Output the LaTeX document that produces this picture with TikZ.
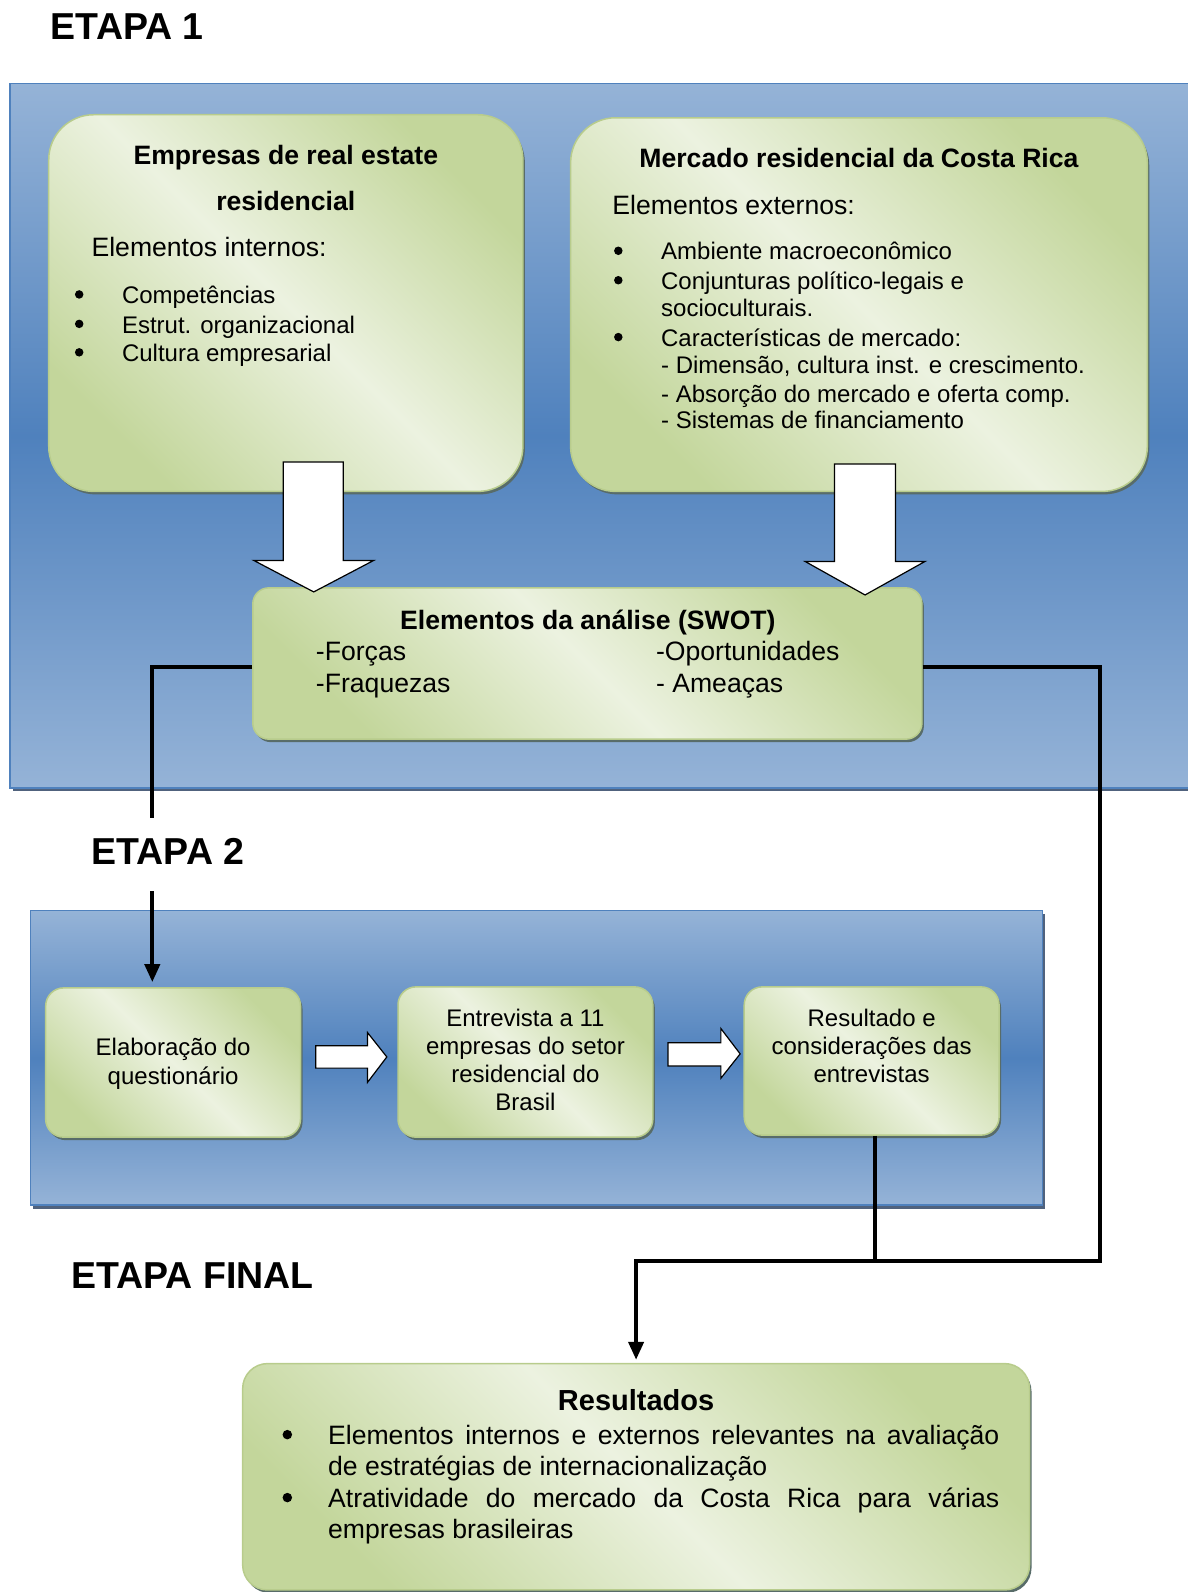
\documentclass[tikz,border=0pt]{standalone}
\usepackage{fontspec}
\setmainfont{Liberation Sans}
\usetikzlibrary{arrows.meta,shadows,calc}
\definecolor{blueL}{RGB}{149,179,215}
\definecolor{blueD}{RGB}{79,129,189}
\definecolor{blueB}{RGB}{79,129,189}
\definecolor{greenL}{RGB}{236,242,224}
\definecolor{greenD}{RGB}{195,214,155}
\definecolor{greenB}{RGB}{184,204,140}
\definecolor{gshadow}{RGB}{88,108,105}
\definecolor{bshadow}{RGB}{80,98,125}
\def\k{1.01538}
\newcommand{\fsA}{\fontsize{26.6pt}{31pt}\selectfont}
\newcommand{\fsB}{\fontsize{24pt}{28pt}\selectfont}
\newcommand{\fsE}{\fontsize{37.5pt}{41pt}\selectfont}
\newcommand{\fsR}{\fontsize{29pt}{33pt}\selectfont}
\begin{document}
\begin{tikzpicture}[x=1.01538pt, y=-1.01538pt,
  panel/.style={draw=blueB, line width=1.5pt, top color=blueL, bottom color=blueL, middle color=blueD,
    drop shadow={shadow xshift=2.5pt, shadow yshift=-3.5pt, fill=bshadow, opacity=1}},
  gbox/.style={draw=greenB, line width=1.5pt, top color=greenD, bottom color=greenD, middle color=greenL,
    shading angle=-45, inner sep=0,
    drop shadow={shadow xshift=2pt, shadow yshift=-3pt, fill=gshadow, opacity=1}},
  blockarrow/.style={fill=white, draw=black, line width=1.2pt, line join=miter},
  conn/.style={line width=4pt, -{Triangle[width=15pt,length=18pt]}},
  plain/.style={line width=4pt},
  etapa/.style={anchor=base west, inner sep=0, font=\bfseries\fsE},
  ctitle/.style={anchor=base, inner sep=0, font=\bfseries\fsA},
  txtA/.style={anchor=base west, inner sep=0, font=\fsA},
  txtB/.style={anchor=base west, inner sep=0, font=\fsB},
  txtC/.style={anchor=base, inner sep=0, font=\fsB},
  bul/.style={circle, fill=black, inner sep=0, minimum size=8.5pt},
  bulA/.style={circle, fill=black, inner sep=0, minimum size=9.5pt}
]
\useasboundingbox (0,0) rectangle (1170,1568);

% panels
\path[panel] (10,82) rectangle (1180,776);
\path[panel] (30,897) rectangle (1027,1187);

% green boxes
\node[gbox, rounded corners=45pt, minimum width={467*\k}, minimum height={371*\k}] (L) at (281.5,298.5) {};
\node[gbox, rounded corners=45pt, minimum width={568*\k}, minimum height={368*\k}] (M) at (846,300) {};
\node[gbox, rounded corners=16pt, minimum width={659*\k}, minimum height={149*\k}] (S) at (578.5,653.5) {};
\node[gbox, rounded corners=18pt, minimum width={251*\k}, minimum height={147*\k}] (Q) at (170.5,1046.5) {};
\node[gbox, rounded corners=18pt, minimum width={251*\k}, minimum height={148*\k}] (E) at (517.5,1046) {};
\node[gbox, rounded corners=18pt, minimum width={251*\k}, minimum height={146*\k}] (C) at (858.5,1045) {};
\node[gbox, rounded corners=25pt, minimum width={775*\k}, minimum height={223*\k}] (R) at (626.5,1454.5) {};

% big block arrows
\path[blockarrow] (279,455) -- (338,455) -- (338,552) -- (368,552) -- (309,583) -- (250,552) -- (279,552) -- cycle;
\path[blockarrow] (822,457) -- (882,457) -- (882,553) -- (911,553) -- (852,586) -- (793,553) -- (822,553) -- cycle;

% small block arrows
\path[blockarrow] (311,1030) -- (362,1030) -- (362,1017) -- (381,1041) -- (362,1066) -- (362,1052) -- (311,1052) -- cycle;
\path[blockarrow] (658,1027) -- (710,1027) -- (710,1013) -- (729,1038) -- (710,1062) -- (710,1050) -- (658,1050) -- cycle;

% connectors
\draw[conn] ([yshift=-3.5pt]S.west) -| ([xshift=-20.8pt,yshift=5pt]Q.north);
\draw[conn] ([yshift=-3.5pt]S.east) -| (1083,1242) -| ([yshift=3pt]R.north);
\draw[plain] ([xshift=3.5pt]C.south) -- ([xshift=3.5pt]C.south |- 0,1242);

% stage labels
\node[etapa] (t1) at (50,39) {ETAPA 1};
\node[etapa, fill=white, text height=45.7pt, text depth=27.4pt] (t2) at (90,851) {ETAPA 2};
\node[etapa] (t3) at (70,1269) {ETAPA FINAL};

% left box text
\node[ctitle] (l1) at (281.5,162) {Empresas de real estate};
\node[ctitle] (l2) at (281.5,207) {residencial};
\node[txtA] (l3) at (90,253) {Elementos internos:};
\node[bul] (lb1) at (78,290) {};
\node[bul] (lb2) at (78,319) {};
\node[bul] (lb3) at (78,347) {};
\node[txtB] (l4) at (120,299) {Competências};
\node[txtB] (l5) at (120,328) {Estrut. organizacional};
\node[txtB] (l6) at (120,356) {Cultura empresarial};

% right box text
\node[ctitle] (m1) at (846,165) {Mercado residencial da Costa Rica};
\node[txtA] (m2) at (603,211) {Elementos externos:};
\node[bul] (mb1) at (609,247) {};
\node[bul] (mb2) at (609,276) {};
\node[bul] (mb3) at (609,332) {};
\node[txtB] (m3) at (651,256) {Ambiente macroeconômico};
\node[txtB] (m4) at (651,285) {Conjunturas político-legais e};
\node[txtB] (m5) at (651,312) {socioculturais.};
\node[txtB] (m6) at (651,341) {Características de mercado:};
\node[txtB] (m7) at (651,368) {- Dimensão, cultura inst. e crescimento.};
\node[txtB] (m8) at (651,396) {- Absorção do mercado e oferta comp.};
\node[txtB] (m9) at (651,422) {- Sistemas de financiamento};

% SWOT text
\node[ctitle] (s1) at (579,620) {Elementos da análise (SWOT)};
\node[txtA] (s2) at (311,651) {-Forças};
\node[txtA] (s3) at (311,682) {-Fraquezas};
\node[txtA] (s4) at (646,651) {-Oportunidades};
\node[txtA] (s5) at (646,682) {- Ameaças};

% stage 2 text
\node[txtC] (q1) at (170.5,1040) {Elaboração do};
\node[txtC] (q2) at (170.5,1068) {questionário};
\node[txtC] (e1) at (517.5,1011) {Entrevista a 11};
\node[txtC] (e2) at (517.5,1039) {empresas do setor};
\node[txtC] (e3) at (517.5,1066) {residencial do};
\node[txtC] (e4) at (517.5,1094) {Brasil};
\node[txtC] (c1) at (858.5,1011) {Resultado e};
\node[txtC] (c2) at (858.5,1039) {considerações das};
\node[txtC] (c3) at (858.5,1066) {entrevistas};

% results text
\node[anchor=base, inner sep=0, font=\bfseries\fsR] (r0) at (626.5,1389) {Resultados};
\node[bulA] (rb1) at (283,1413) {};
\node[bulA] (rb2) at (283,1475) {};
\node[txtA] (r1) at (323,1423) {\makebox[671.2pt][s]{Elementos internos e externos relevantes na avaliação}};
\node[txtA] (r2) at (323,1453) {de estratégias de internacionalização};
\node[txtA] (r3) at (323,1485) {\makebox[671.2pt][s]{Atratividade do mercado da Costa Rica para várias}};
\node[txtA] (r4) at (323,1515) {empresas brasileiras};
\end{tikzpicture}
\end{document}
